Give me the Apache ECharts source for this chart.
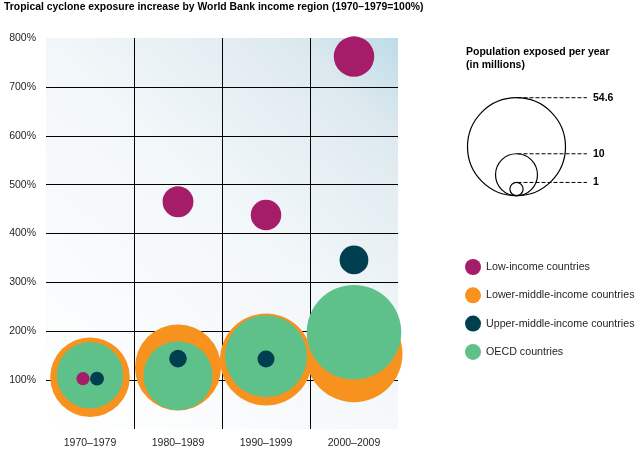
<!DOCTYPE html>
<html>
<head>
<meta charset="utf-8">
<style>
  html, body { margin: 0; padding: 0; background: #fff; }
  #chart { width: 642px; height: 460px; }
</style>
<script src="https://cdn.jsdelivr.net/npm/echarts@6/dist/echarts.min.js"></script>
</head>
<body>
<div id="chart"></div>
<script>
// ---- data ----
const titleText = 'Tropical cyclone exposure increase by World Bank income region (1970\u20131979=100%)';
const categories = ['1970\u20131979', '1980\u20131989', '1990\u20131999', '2000\u20132009'];
const yTicks = [0, 100, 200, 300, 400, 500, 600, 700, 800];

const seriesNames = ['Low-income countries', 'Lower-middle-income countries', 'Upper-middle-income countries', 'OECD countries'];
// exposure index (% of 1970–1979 level)
const lowIncomePct = [103, 465, 438, 762];
const lowerMiddlePct = [106, 126, 142, 154];
const upperMiddlePct = [103, 144, 143, 346];
const oecdPct = [110, 109, 149, 198];
// population exposed per year (millions)
const lowIncomePop = [1.0, 5.4, 5.3, 9.3];
const lowerMiddlePop = [36.0, 42.1, 48.1, 53.5];
const upperMiddlePop = [1.1, 1.76, 1.64, 4.7];
const oecdPop = [25.1, 27.1, 38.2, 50.8];

const sizeLegendTitle = 'Population exposed per year\n(in millions)';
const sizeLegendValues = [54.6, 10, 1];

// ---- styles ----
const colors = {
  low: '#a51c69',
  lowerMid: '#f7921e',
  upperMid: '#003f4f',
  oecd: '#5ec189'
};
const FONT = '"Liberation Sans", Arial, Helvetica, sans-serif';
const TEXT = '#231f20';
const K = 6.63; // px radius per sqrt(million)
const sizeFn = v => 2 * K * Math.sqrt(v[2]);
// side-by-side shift for the overlapping small bubbles in the first period
const firstPeriodShift = { low: [-7, 0], upperMid: [7, 0] };

function buildData(pct, pop, shift) {
  return categories.map((c, i) => {
    const item = { value: [i, pct[i], pop[i]] };
    if (shift && i === 0) item.symbolOffset = shift;
    return item;
  });
}

function scatter(name, color, data) {
  return {
    name, type: 'scatter', data,
    symbol: 'circle',
    symbolSize: sizeFn,
    itemStyle: { color, opacity: 1 },
    emphasis: { disabled: true },
    silent: true
  };
}

// size legend graphics, computed from the same size scale
const legendCx = 516.5, legendBase = 195.7, lineEnd = 587, labelX = 593;
const sizeGraphics = [];
sizeGraphics.push({
  type: 'text', left: 466, top: 46,
  style: { text: sizeLegendTitle, font: 'bold 10.5px ' + FONT, fill: '#000', lineHeight: 13 }
});
sizeLegendValues.forEach(v => {
  const r = K * Math.sqrt(v);
  const topY = legendBase - 2 * r;
  sizeGraphics.push({
    type: 'circle', shape: { cx: legendCx, cy: legendBase - r, r },
    style: { fill: 'none', stroke: '#000', lineWidth: 1.2 }, silent: true
  });
  sizeGraphics.push({
    type: 'line', shape: { x1: legendCx + 1, y1: topY, x2: lineEnd, y2: topY },
    style: { stroke: '#000', lineWidth: 1, lineDash: [4, 2] }, silent: true
  });
  sizeGraphics.push({
    type: 'text', x: labelX, y: topY,
    style: { text: String(v), font: 'bold 10.5px ' + FONT, fill: '#000', verticalAlign: 'middle', align: 'left' }
  });
});

const chart = echarts.init(document.getElementById('chart'), null, { renderer: 'canvas' });
chart.setOption({
  animation: false,
  backgroundColor: '#fff',
  title: {
    text: titleText, left: 4, top: 2, padding: 0,
    textStyle: { fontSize: 10.4, fontWeight: 'bold', color: '#000', fontFamily: FONT }
  },
  grid: {
    left: 46, right: 244, top: 38, bottom: 31,
    show: true, borderWidth: 0,
    backgroundColor: {
      type: 'linear', x: 0, y: 1, x2: 1, y2: 0,
      colorStops: [
        { offset: 0, color: '#ffffff' },
        { offset: 0.55, color: '#f2f7f9' },
        { offset: 0.86, color: '#dde9ef' },
        { offset: 1, color: '#bcdce7' }
      ]
    }
  },
  legend: {
    orient: 'vertical', left: 465, top: 259, padding: 0,
    itemWidth: 16, itemHeight: 16, itemGap: 12.3,
    icon: 'circle',
    data: seriesNames,
    selectedMode: false,
    textStyle: { fontSize: 10.7, color: TEXT, fontFamily: FONT }
  },
  xAxis: {
    type: 'category', data: categories, boundaryGap: true,
    axisLine: { show: false }, axisTick: { show: false },
    axisLabel: { fontSize: 10.5, color: TEXT, fontFamily: FONT, margin: 9 },
    splitLine: { show: true, showMinLine: false, showMaxLine: false, lineStyle: { color: '#000', width: 1 } }
  },
  yAxis: {
    type: 'value', min: yTicks[0], max: yTicks[yTicks.length - 1], interval: yTicks[1] - yTicks[0],
    axisLine: { show: false }, axisTick: { show: false },
    axisLabel: { formatter: '{value}%', fontSize: 10.5, color: TEXT, fontFamily: FONT, margin: 10, showMinLabel: false },
    splitLine: { show: true, showMinLine: false, showMaxLine: false, lineStyle: { color: '#000', width: 1 } }
  },
  series: [
    scatter(seriesNames[1], colors.lowerMid, buildData(lowerMiddlePct, lowerMiddlePop)),
    scatter(seriesNames[3], colors.oecd, buildData(oecdPct, oecdPop)),
    scatter(seriesNames[2], colors.upperMid, buildData(upperMiddlePct, upperMiddlePop, firstPeriodShift.upperMid)),
    scatter(seriesNames[0], colors.low, buildData(lowIncomePct, lowIncomePop, firstPeriodShift.low))
  ],
  graphic: sizeGraphics
});
</script>
</body>
</html>
